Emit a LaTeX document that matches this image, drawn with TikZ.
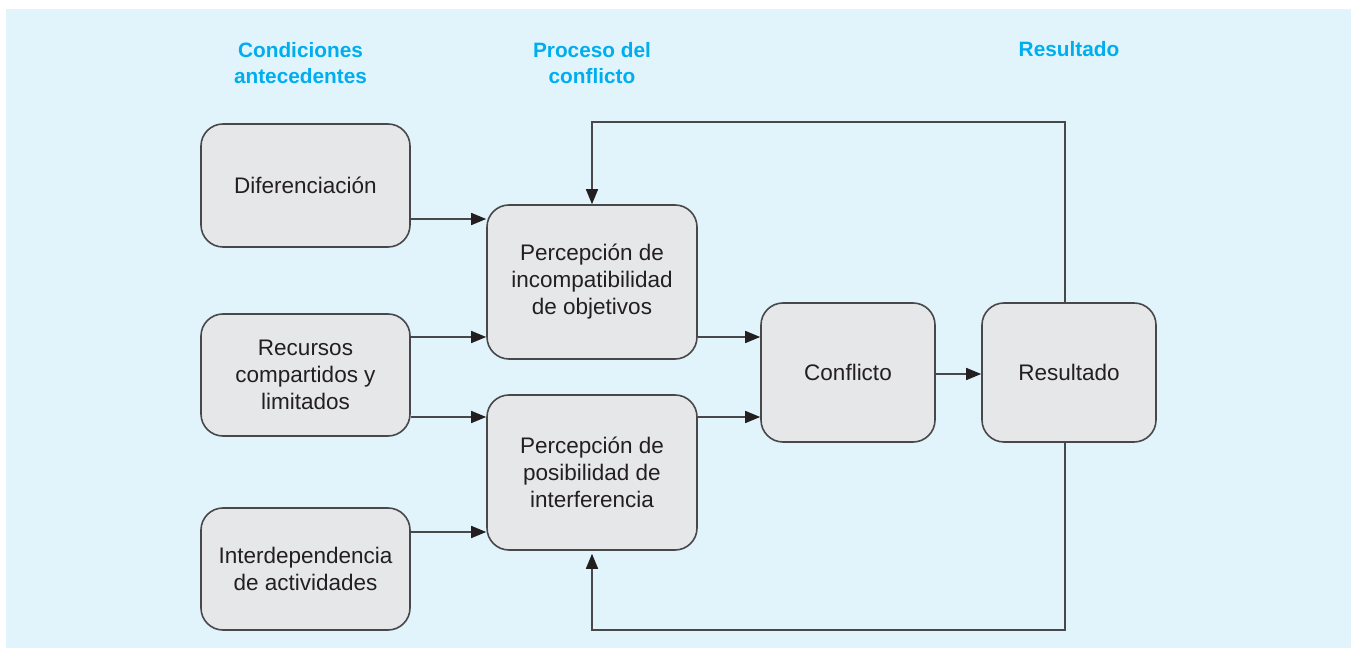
\documentclass[tikz,border=0pt]{standalone}
\usepackage{fontspec}
\setmainfont{Liberation Sans}
\usetikzlibrary{arrows.meta}
\definecolor{bgblue}{HTML}{E1F4FB}
\definecolor{boxgray}{HTML}{E6E7E8}
\definecolor{headcyan}{HTML}{00AEEF}
\definecolor{linegray}{HTML}{48484A}
\definecolor{txtdark}{HTML}{231F20}
\begin{document}
\begin{tikzpicture}[x=0.5pt,y=-0.5pt]
\tikzstyle{blk}=[draw=linegray,fill=boxgray,rounded corners=11pt,line width=0.8pt,align=center,text=txtdark,font=\fontsize{11.25}{13.5}\selectfont,inner sep=2pt]
\tikzstyle{head}=[text=headcyan,align=center,font=\fontsize{10.4}{13}\selectfont\bfseries]
\tikzstyle{link}=[->,>={Triangle[length=7.5pt,width=6pt,color=txtdark]},draw=linegray,line width=0.8pt]

% background
\fill[white] (0,0) rectangle (1355,657);
\fill[bgblue] (6,9) rectangle (1351,648);

% column headings
\node[head] (h1) at (300.5,63) {Condiciones\\antecedentes};
\node[head] (h2) at (592,63) {Proceso del\\conflicto};
\node[head,anchor=base] (h3) at (1069,57) {Resultado};

% antecedents
\node[blk,minimum width=104.5pt,minimum height=61.5pt] (dif) at (305.5,185.5) {Diferenciación};
\node[blk,minimum width=104.5pt,minimum height=61pt] (rec) at (305.5,375) {Recursos\\compartidos y\\limitados};
\node[blk,minimum width=104.5pt,minimum height=61pt] (int) at (305.5,569) {Interdependencia\\de actividades};

% conflict process
\node[blk,minimum width=105pt,minimum height=77pt] (pi) at (592,282) {Percepción de\\incompatibilidad\\de objetivos};
\node[blk,minimum width=105pt,minimum height=77.5pt] (pp) at (592,472.5) {Percepción de\\posibilidad de\\interferencia};
\node[blk,minimum width=87pt,minimum height=69.5pt] (con) at (848,372.5) {Conflicto};
\node[blk,minimum width=87pt,minimum height=69.5pt] (res) at (1069,372.5) {Resultado};

% forward links
\foreach \a/\b/\y in {dif/pi/219,rec/pi/337,rec/pp/417,int/pp/532,pi/con/337,pp/con/417,con/res/374} {
  \draw[link] (\a.east |- 0,\y) -- (\b.west |- 0,\y);
}

% feedback loops
\draw[link] ([xshift=-2pt]res.north) |- (pi.north |- 0,122) -- (pi.north);
\draw[link,shorten >=1.5pt] ([xshift=-2pt]res.south) |- (pp.south |- 0,630) -- (pp.south);
\end{tikzpicture}
\end{document}
